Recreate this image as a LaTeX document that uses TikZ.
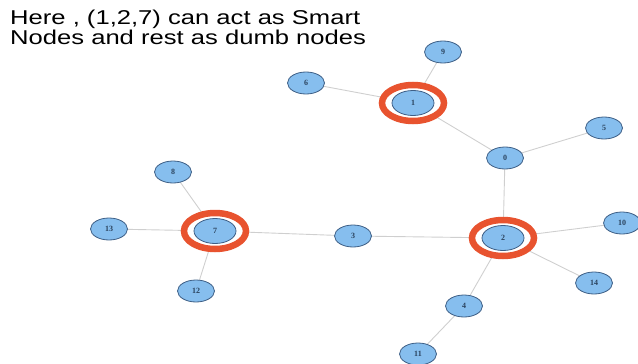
\documentclass[tikz,border=0pt]{standalone}
\usepackage{fontspec}
\setmainfont{Liberation Serif}
\newfontfamily\notefont{Liberation Sans}
\usepackage{xcolor}
\usetikzlibrary{shapes,calc,backgrounds}

\definecolor{nodeblue}{HTML}{86BEEE}
\definecolor{nodeedge}{HTML}{3E5F86}
\definecolor{linkgray}{HTML}{CFCFCF}
\definecolor{smartred}{HTML}{E8532F}

\begin{document}
\begin{tikzpicture}[
    x=1pt, y=-1pt,
    dumb/.style={ellipse, draw=nodeedge, fill=nodeblue, line width=0.8pt,
                 minimum width=37pt, minimum height=22pt, inner sep=0pt,
                 font=\bfseries\fontsize{8}{9}\selectfont, text=nodeedge!70!black},
    smart/.style={dumb, minimum width=42pt, minimum height=25pt},
    ring/.style={ellipse, draw=smartred, fill=white, line width=6.5pt,
                 minimum width=62pt, minimum height=36pt},
    link/.style={draw=linkgray, line width=0.9pt},
  ]
    \useasboundingbox (0,0) rectangle (638,364);

    % caption, stretched sideways
    \node[anchor=north west, align=left, inner sep=0pt,
          font=\notefont\fontsize{20}{20}\selectfont] (note) at (10,10)
         {\scalebox{1.28}[1]{\begin{tabular}{@{}l@{}}Here , (1,2,7) can act as Smart\\[-1pt]Nodes and rest as dumb nodes\end{tabular}}};

    % smart nodes with their rings
    \foreach \i/\x/\y in {1/413/103, 2/503/238, 7/215/231} {
      \node[ring] (r\i) at (\x,\y) {};
      \node[smart] (n\i) at (\x,\y) {\i};
    }

    % dumb nodes
    \foreach \i/\x/\y in {0/505/158, 3/353/236, 4/464/306, 5/604/128,
                          6/306/83, 8/173/172, 9/443/52, 10/622/223,
                          11/418/354, 12/196/291, 13/109/229, 14/594/283}
      \node[dumb] (n\i) at (\x,\y) {\i};

    % links go behind the nodes
    \begin{scope}[on background layer]
      \foreach \a/\b in {9/1, 6/1, 1/0, 0/5, 0/2, 2/10, 2/14, 2/4, 4/11,
                         2/3, 3/7, 7/8, 7/13, 7/12}
        \draw[link] (n\a.center) -- (n\b.center);
    \end{scope}
  \end{tikzpicture}
\end{document}
